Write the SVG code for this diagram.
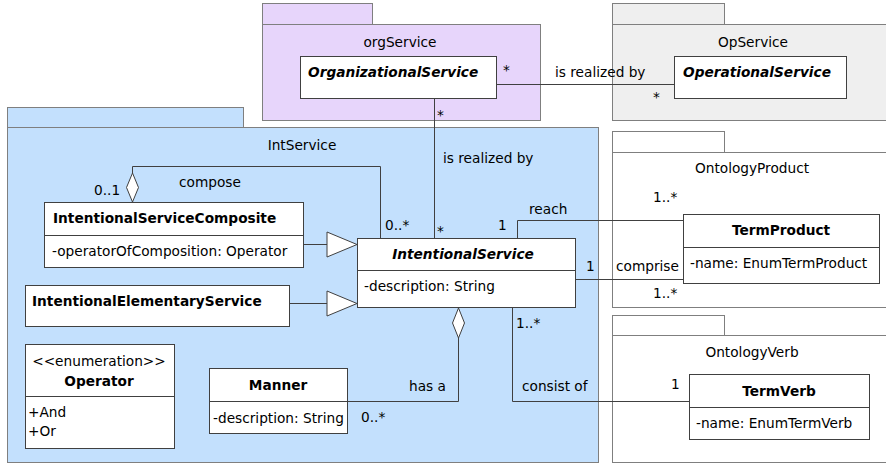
<svg xmlns="http://www.w3.org/2000/svg" width="886" height="464" viewBox="0 0 886 464">
<style>
text{font-family:"DejaVu Sans","Liberation Sans",sans-serif;font-size:13.7px;fill:#000}
.b{font-weight:bold}
.bi{font-weight:bold;font-style:italic}
.m{text-anchor:middle}
.pk{stroke:#7f7f7f;stroke-width:1}
.box{fill:#fff;stroke:#404040;stroke-width:1}
.ln{fill:none;stroke:#404040;stroke-width:1}
.hd{fill:#fff;stroke:#404040;stroke-width:1}
</style>
<rect width="886" height="464" fill="#fff"/>
<g id="pkg-orgService">
<rect class="pk" x="262.5" y="3.5" width="110" height="21" fill="#e7d5fb"/>
<rect class="pk" x="262.5" y="24.5" width="278" height="96" fill="#e7d5fb"/>
<text class="m" x="400" y="47">orgService</text>
</g>
<g id="pkg-OpService">
<rect class="pk" x="612.5" y="3.5" width="112" height="21" fill="#efefef"/>
<rect class="pk" x="612.5" y="24.5" width="280" height="96" fill="#efefef"/>
<text class="m" x="753" y="47">OpService</text>
</g>
<g id="pkg-IntService">
<rect class="pk" x="7.5" y="107.5" width="236" height="20" fill="#c3e0fd"/>
<rect class="pk" x="7.5" y="127.5" width="591" height="335" fill="#c3e0fd"/>
<text class="m" x="302" y="150">IntService</text>
</g>
<g id="pkg-OntologyProduct">
<rect class="pk" x="612.5" y="131.5" width="112" height="21" fill="#fff"/>
<rect class="pk" x="612.5" y="152.5" width="280" height="155" fill="#fff"/>
<text class="m" x="752" y="173">OntologyProduct</text>
</g>
<g id="pkg-OntologyVerb">
<rect class="pk" x="612.5" y="315.5" width="112" height="20" fill="#fff"/>
<rect class="pk" x="612.5" y="335.5" width="280" height="127" fill="#fff"/>
<text class="m" x="752" y="357">OntologyVerb</text>
</g>
<g id="connectors">
<path class="ln" d="M497 84.5H674"/>
<text x="555" y="77">is realized by</text>
<text x="503" y="75">*</text>
<text x="653" y="102">*</text>
<path class="ln" d="M434.5 99V238"/>
<text x="437" y="120">*</text>
<text x="443" y="163">is realized by</text>
<text x="437" y="236">*</text>
<path class="ln" d="M132.5 173V166.5H380.5V238"/>
<polygon class="hd" points="132.5,173 138.5,187.5 132.5,202 126.5,187.5"/>
<text x="94" y="195">0..1</text>
<text x="179" y="187">compose</text>
<text x="385" y="230">0..*</text>
<path class="ln" d="M304 244.5H327"/>
<polygon class="hd" points="327,232 357,244.5 327,257"/>
<path class="ln" d="M289 303.5H327"/>
<polygon class="hd" points="327,291 357,303.5 327,316"/>
<path class="ln" d="M517.5 238V220.5H683"/>
<text x="498" y="230">1</text>
<text x="529" y="214">reach</text>
<text x="653" y="202">1..*</text>
<path class="ln" d="M576 279.5H683"/>
<text x="586" y="271">1</text>
<text x="616" y="271">comprise</text>
<text x="653" y="298">1..*</text>
<path class="ln" d="M458.5 338V401.5H347"/>
<polygon class="hd" points="458.5,308 464.5,323 458.5,338 452.5,323"/>
<text x="409" y="391">has a</text>
<text x="361" y="422">0..*</text>
<path class="ln" d="M512.5 308V401.5H689"/>
<text x="516" y="328">1..*</text>
<text x="522" y="391">consist of</text>
<text x="671" y="389">1</text>
</g>
<g id="OrganizationalService">
<rect class="box" x="300.5" y="56.5" width="196" height="42"/>
<text class="bi" x="308" y="77">OrganizationalService</text>
</g>
<g id="OperationalService">
<rect class="box" x="674.5" y="56.5" width="172" height="42"/>
<text class="bi" x="683" y="77">OperationalService</text>
</g>
<g id="IntentionalServiceComposite">
<rect class="box" x="44.5" y="202.5" width="259" height="65"/>
<path class="ln" d="M44.5 235.5H303.5"/>
<text class="b" x="53" y="223">IntentionalServiceComposite</text>
<text x="52" y="256">-operatorOfComposition: Operator</text>
</g>
<g id="IntentionalService">
<rect class="box" x="357.5" y="238.5" width="218" height="69"/>
<path class="ln" d="M357.5 270.5H575.5"/>
<text class="bi m" x="463" y="259">IntentionalService</text>
<text x="364" y="291">-description: String</text>
</g>
<g id="IntentionalElementaryService">
<rect class="box" x="25.5" y="285.5" width="264" height="41"/>
<text class="b" x="32" y="306">IntentionalElementaryService</text>
</g>
<g id="Operator">
<rect class="box" x="25.5" y="344.5" width="149" height="104"/>
<path class="ln" d="M25.5 396.5H174.5"/>
<text class="m" x="99" y="366">&lt;&lt;enumeration&gt;&gt;</text>
<text class="b m" x="99" y="386">Operator</text>
<text x="28" y="417">+And</text>
<text x="28" y="436">+Or</text>
</g>
<g id="Manner">
<rect class="box" x="209.5" y="368.5" width="138" height="65"/>
<path class="ln" d="M209.5 401.5H347.5"/>
<text class="b m" x="278" y="390">Manner</text>
<text x="213" y="423">-description: String</text>
</g>
<g id="TermProduct">
<rect class="box" x="683.5" y="214.5" width="196" height="69"/>
<path class="ln" d="M683.5 247.5H879.5"/>
<text class="b m" x="781" y="235">TermProduct</text>
<text x="690" y="268">-name: EnumTermProduct</text>
</g>
<g id="TermVerb">
<rect class="box" x="689.5" y="374.5" width="180" height="65"/>
<path class="ln" d="M689.5 407.5H869.5"/>
<text class="b m" x="779" y="396">TermVerb</text>
<text x="696" y="428">-name: EnumTermVerb</text>
</g>
</svg>
